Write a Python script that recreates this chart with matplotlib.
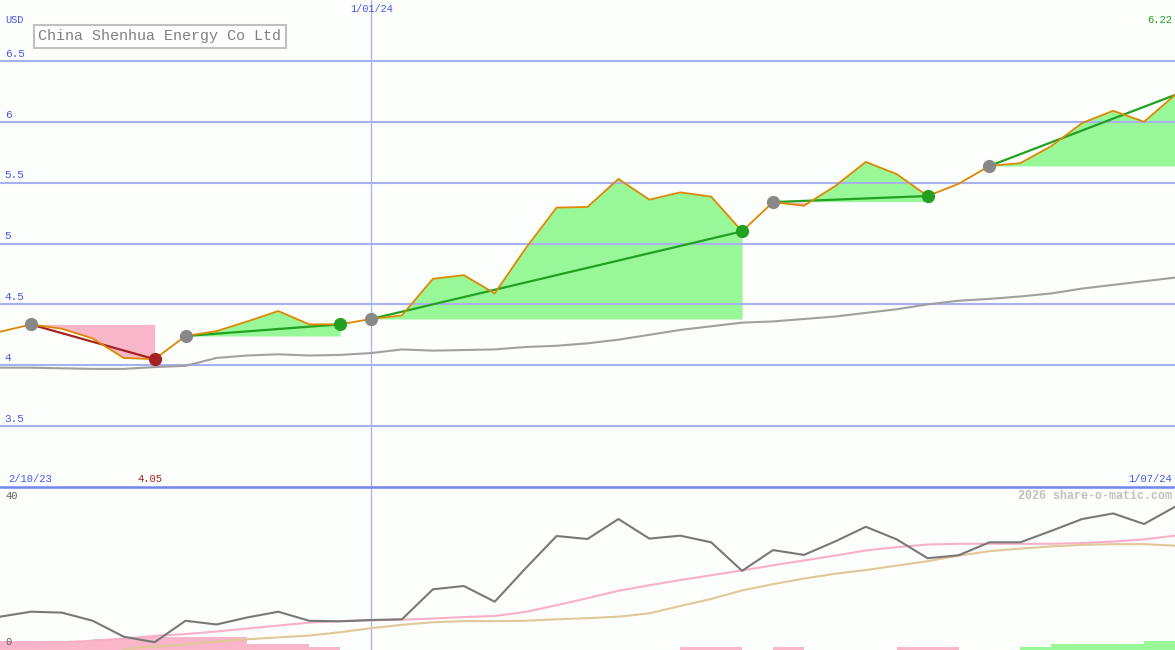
import numpy as np
import matplotlib.pyplot as plt
from matplotlib.lines import Line2D

# weekly closes, 2/10/23 .. 1/07/24 (index 12 = 1/01/24)
weeks = np.arange(39)
close = [4.275, 4.335, 4.30, 4.22, 4.06, 4.05, 4.24, 4.28, 4.36, 4.445,
         4.336, 4.336, 4.38, 4.41, 4.71, 4.74, 4.59, 4.96, 5.295, 5.30,
         5.53, 5.36, 5.42, 5.385, 5.10, 5.34, 5.31, 5.47, 5.67, 5.57,
         5.39, 5.49, 5.637, 5.66, 5.80, 5.99, 6.09, 6.00, 6.22]
avg_price = [3.98, 3.98, 3.975, 3.97, 3.97, 3.985, 3.995, 4.06, 4.08, 4.09,
             4.08, 4.085, 4.10, 4.13, 4.12, 4.125, 4.13, 4.15, 4.16, 4.18,
             4.21, 4.25, 4.29, 4.32, 4.35, 4.36, 4.38, 4.40, 4.43, 4.46,
             4.50, 4.53, 4.545, 4.565, 4.59, 4.63, 4.66, 4.69, 4.72]

# trend swings: start week -> end week
trend_start = [1, 6, 12, 25, 32]
trend_end = [5, 11, 24, 30, 38]

# lower panel
osc_gray = [9.0, 10.35, 10.1, 7.9, 3.6, 2.1, 7.9, 6.9, 8.8, 10.35,
            7.9, 7.75, 8.1, 8.3, 16.4, 17.3, 13.05, 22.1, 30.8, 30.0,
            35.4, 30.1, 30.9, 29.1, 21.4, 27.0, 25.7, 29.3, 33.3, 29.9,
            24.8, 25.6, 29.1, 29.1, 32.2, 35.4, 36.9, 34.05, 38.7]
osc_pink = [1.5, 1.8, 2.1, 2.5, 3.1, 3.8, 4.3, 5.0, 5.8, 6.6,
            7.4, 7.8, 8.0, 8.2, 8.5, 8.9, 9.2, 10.3, 12.1, 14.0,
            16.0, 17.5, 18.9, 20.2, 21.5, 22.9, 24.2, 25.5, 26.9, 27.8,
            28.5, 28.7, 28.7, 28.7, 28.7, 28.9, 29.3, 29.9, 30.9]
osc_tan = [np.nan, np.nan, np.nan, np.nan, 0.3, 0.9, 1.5, 2.3, 2.9, 3.4,
           3.9, 4.8, 5.9, 6.8, 7.5, 7.8, 7.8, 7.9, 8.3, 8.6,
           9.0, 9.9, 11.9, 13.8, 16.1, 17.8, 19.3, 20.6, 21.6, 22.8,
           24.0, 25.5, 26.7, 27.4, 28.0, 28.4, 28.6, 28.6, 28.2]
# signed weekly bars (negative = pink, positive = green)
bar_vals = [-2.4, -2.4, -2.4, -3.0, -3.6, -3.6, -3.6, -3.6, -1.6, -1.6,
            -0.9, 0, 0, 0, 0, 0, 0, 0, 0, 0,
            0, 0, -0.8, -0.8, 0, -0.8, 0, 0, 0, -0.8,
            -0.8, 0, 0, 0.8, 1.6, 1.6, 1.6, 2.4]

price_ticks = [3.5, 4, 4.5, 5, 5.5, 6, 6.5]

BG = '#fbfefb'
GRID = '#a8b0f0'
BLUE = '#4858e8'
GREEN = '#22a022'
RED = '#a52222'
FILL_G = '#98f898'
FILL_P = '#f8b6c8'
plt.rcParams['font.family'] = ['Liberation Mono', 'DejaVu Sans Mono']

W, H = 1175, 650
fig = plt.figure(figsize=(W / 100, H / 100), dpi=100, facecolor=BG)
split = 163 / H
ax = fig.add_axes([0, split, 1, 1 - split], facecolor=BG)
ax2 = fig.add_axes([0, 0, 1, split], facecolor=BG)
for a in (ax, ax2):
    a.set_xlim(0, 38)
    a.set_xticks([])
    a.set_yticks([])
    for s in a.spines.values():
        s.set_visible(False)
ax.set_ylim(3, 7)
ax2.set_ylim(0, 44.05)

close = np.array(close)

# grid (drawn over the swing fills)
for t in price_ticks:
    ax.axhline(t, color=GRID, lw=1.5, zorder=2.5)
    ax.text(0.004, t + 0.018, f'{t:g}', transform=ax.get_yaxis_transform(),
            color=BLUE, fontsize=8, va='bottom', ha='left')
ax.axvline(12, color=GRID, lw=0.9, zorder=2.5)
ax2.axvline(12, color=GRID, lw=0.9, zorder=1)

# swing fills, trend lines and markers
for s, e in zip(trend_start, trend_end):
    xs = weeks[s:e + 1]
    ys = close[s:e + 1]
    lvl = close[s]
    ax.fill_between(xs, ys, lvl, where=ys >= lvl, interpolate=True,
                    color=FILL_G, lw=0, zorder=2)
    ax.fill_between(xs, ys, lvl, where=ys < lvl, interpolate=True,
                    color=FILL_P, lw=0, zorder=2)
    up = close[e] >= lvl
    col = GREEN if up else RED
    ax.plot([s, e], [close[s], close[e]], color=col, lw=1.6, zorder=4)
    ax.plot(s, close[s], 'o', color='#888888', ms=8.5, zorder=6)
    if e < 38:
        ax.plot(e, close[e], 'o', color=col, ms=8.5, zorder=6)

ax.plot(weeks, avg_price, color='#a0a0a0', lw=1.5, zorder=3)
ax.plot(weeks, close, color='#dd8800', lw=1.3, zorder=5)

# lower panel
bv = np.array(bar_vals)
ax2.bar(weeks[:-1], np.abs(bv), width=1, align='edge',
        color=np.where(bv < 0, FILL_P, FILL_G), lw=0, zorder=2)
ax2.plot(weeks, osc_pink, color='#f8b0c8', lw=1.5, zorder=3)
ax2.plot(weeks, osc_tan, color='#e0c898', lw=1.5, zorder=3)
ax2.plot(weeks, osc_gray, color='#787878', lw=1.5, zorder=4)

fig.add_artist(Line2D([0, 1], [split, split], transform=fig.transFigure,
                      color='#7484f0', lw=1.8))


def px(x, y):
    return x / W, 1 - y / H


fig.text(*px(5, 20), 'USD', color=BLUE, fontsize=7.4, va='center')
fig.text(*px(372, 9), '1/01/24', color=BLUE, fontsize=7.4, va='center', ha='center')
fig.text(*px(1172, 20), '6.22', color=GREEN, fontsize=7.6, va='center', ha='right')
fig.text(*px(8, 479), '2/10/23', color=BLUE, fontsize=7.6, va='center')
fig.text(*px(137, 479), '4.05', color=RED, fontsize=7.6, va='center')
fig.text(*px(1172, 479), '1/07/24', color=BLUE, fontsize=7.6, va='center', ha='right')
fig.text(*px(5, 496), '40', color='#606060', fontsize=7.6, va='center')
fig.text(*px(5, 642), '0', color='#606060', fontsize=7.6, va='center')
fig.text(*px(1172, 496), '2026 share-o-matic.com', color='#c0c0c0',
         fontsize=8.4, va='center', ha='right', fontweight='bold')
fig.text(*px(38, 36), 'China Shenhua Energy Co Ltd', color='#808080',
         fontsize=10.8, va='center', ha='left',
         bbox=dict(boxstyle='square,pad=0.3', fc='white', ec='#c0c0c0', lw=1.5))

fig.savefig('out.png', dpi=100, facecolor=BG)
